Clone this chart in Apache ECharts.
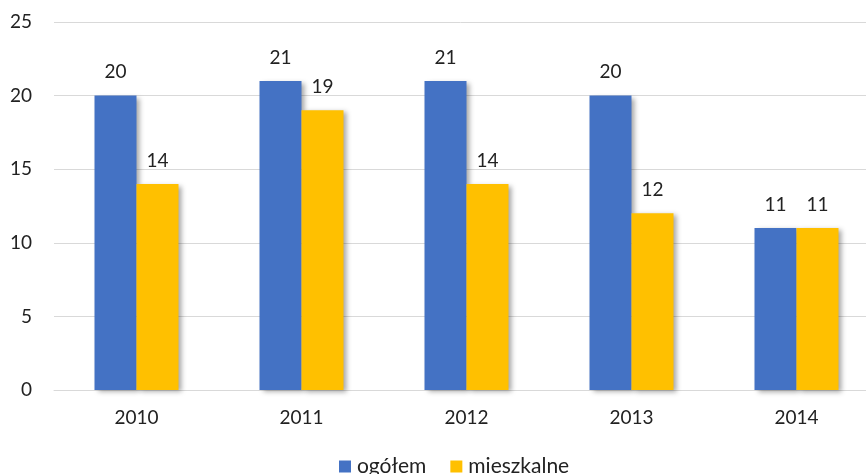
<!DOCTYPE html>
<html><head><meta charset="utf-8">
<script src="https://cdn.jsdelivr.net/npm/echarts@6/dist/echarts.min.js"></script>
<style>html,body{margin:0;padding:0;background:#fff}#c{width:866px;height:474px}</style>
</head><body><div id="c"></div>
<script>
var categories = ['2010', '2011', '2012', '2013', '2014'];
var ogolem = [20, 21, 21, 20, 11];
var mieszkalne = [14, 19, 14, 12, 11];
var yTicks = [0, 5, 10, 15, 20, 25];

var font = 'Lato, "Open Sans", sans-serif';
var chart = echarts.init(document.getElementById('c'));
var shadow = {shadowColor: 'rgba(0,0,0,0.35)', shadowBlur: 5, shadowOffsetX: 3, shadowOffsetY: 2};
chart.setOption({
  animation: false,
  grid: {left: 54, width: 825, top: 22, height: 368, outerBoundsMode: 'none', containLabel: false},
  legend: {
    data: ['ogółem', 'mieszkalne'],
    left: 334, top: 451,
    itemWidth: 12, itemHeight: 12, itemGap: 24,
    icon: 'rect',
    textStyle: {fontFamily: font, fontSize: 21, color: '#222', padding: [0, 0, 0, 1]}
  },
  xAxis: {
    type: 'category', data: categories,
    axisLine: {lineStyle: {color: '#d9d9d9', width: 1}},
    axisTick: {show: false},
    axisLabel: {fontFamily: font, fontSize: 19, color: '#222', margin: 18}
  },
  yAxis: {
    type: 'value', min: yTicks[0], max: yTicks[yTicks.length - 1], interval: 5,
    axisLine: {show: false}, axisTick: {show: false},
    splitLine: {lineStyle: {color: '#d9d9d9', width: 1}},
    axisLabel: {fontFamily: font, fontSize: 19, color: '#222', margin: 22}
  },
  series: [
    {name: 'ogółem', type: 'bar', data: ogolem, barWidth: 42, barGap: '0%',
     itemStyle: Object.assign({color: '#4472C4'}, shadow),
     label: {show: true, position: 'top', distance: 14, fontFamily: font, fontSize: 19, color: '#222'}},
    {name: 'mieszkalne', type: 'bar', data: mieszkalne, barWidth: 42, barGap: '0%',
     itemStyle: Object.assign({color: '#FFC000'}, shadow),
     label: {show: true, position: 'top', distance: 14, fontFamily: font, fontSize: 19, color: '#222'}}
  ]
});
</script></body></html>
